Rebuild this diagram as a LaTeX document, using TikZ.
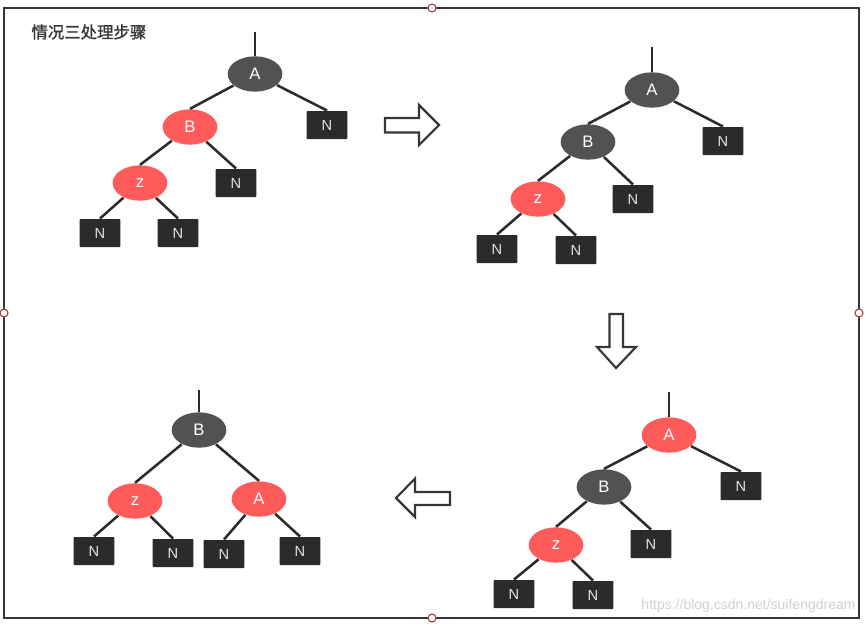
\documentclass[tikz,border=0pt]{standalone}
\usepackage{fontspec}
\setmainfont{Liberation Sans}
\newfontfamily\cjk[FakeBold=1.2]{Noto Sans CJK SC}
\usetikzlibrary{shapes.geometric}

\definecolor{nodedark}{HTML}{525252}
\definecolor{nodered}{HTML}{FF5B5B}
\definecolor{leafbox}{HTML}{2B2B2B}
\definecolor{leaftext}{HTML}{E2E2E2}
\definecolor{edgeline}{HTML}{2B2B2B}
\definecolor{framegray}{HTML}{363636}
\definecolor{handlered}{HTML}{A8383C}
\definecolor{marktext}{HTML}{D0D0D0}

\tikzset{
	blacknode/.style={ellipse, fill=nodedark, text=white, minimum width=41pt, minimum height=26.5pt, inner sep=0pt, font=\fontsize{12.5}{12.5}\selectfont},
	rednode/.style={blacknode, fill=nodered},
	leaf/.style={rectangle, rounded corners=0.5pt, fill=leafbox, text=leaftext, minimum width=30.5pt, minimum height=21pt, inner sep=0pt, font=\fontsize{11}{11}\selectfont},
	link/.style={draw=edgeline, line width=1.9pt},
	bigarrow/.style={draw=framegray, fill=white, line width=1.6pt, line join=miter},
	handle/.style={circle, draw=handlered, fill=white, line width=0.8pt, minimum size=6pt, inner sep=0pt}
}
\tikzset{every picture/.style={line width=0.75pt}}

\begin{document}
\begin{tikzpicture}[x=0.75pt,y=0.75pt,yscale=-1,xscale=1]
	\useasboundingbox (0,0) rectangle (866,625);

	%Shape: Rectangle [id:frame]
	\draw [draw=framegray, line width=1.6pt] (4,8) rectangle (859,618) ;
	% Handles
	\node [handle] (h1) at (432,8) {};
	\node [handle] (h2) at (4,313) {};
	\node [handle] (h3) at (859,313) {};
	\node [handle] (h4) at (432,618) {};

	% Text Node
	\node [anchor=west, text=framegray, font=\cjk\fontsize{12.3}{12.3}\selectfont, inner sep=0pt] (title) at (31,32) {情况三处理步骤};

	%Tree 1
	\coordinate (s1) at (255,32);
	\node [blacknode] (a1) at (255,74) {A};
	\node [rednode] (b1) at (190,127) {B};
	\node [leaf] (na1) at (327,125) {N};
	\node [rednode] (z1) at (140,183) {z};
	\node [leaf] (nb1) at (236,183) {N};
	\node [leaf] (nzl1) at (100,233) {N};
	\node [leaf] (nzr1) at (178,233) {N};
	\draw [link] (s1) -- (a1) ;
	\draw [link] (a1) -- (b1.north) ;
	\draw [link] (a1) -- (na1.north) ;
	\draw [link] (b1) -- (z1.north) ;
	\draw [link] (b1) -- (nb1.north) ;
	\draw [link] (z1) -- (nzl1.north) ;
	\draw [link] (z1) -- (nzr1.north) ;

	%Shape: Right Arrow [id:arrow1]
	\draw [bigarrow] (385,118) -- (419,118) -- (419,105) -- (439,125) -- (419,145) -- (419,132.5) -- (385,132.5) -- cycle ;

	%Tree 2
	\coordinate (s2) at (652,47);
	\node [blacknode] (a2) at (652,90) {A};
	\node [blacknode] (b2) at (588,142) {B};
	\node [leaf] (na2) at (723,141) {N};
	\node [rednode] (z2) at (538,199) {z};
	\node [leaf] (nb2) at (633,199) {N};
	\node [leaf] (nzl2) at (497,249) {N};
	\node [leaf] (nzr2) at (576,250) {N};
	\draw [link] (s2) -- (a2) ;
	\draw [link] (a2) -- (b2.north) ;
	\draw [link] (a2) -- (na2.north) ;
	\draw [link] (b2) -- (z2.north) ;
	\draw [link] (b2) -- (nb2.north) ;
	\draw [link] (z2) -- (nzl2.north) ;
	\draw [link] (z2) -- (nzr2.north) ;

	%Shape: Down Arrow [id:arrow2]
	\draw [bigarrow] (609.5,314) -- (623,314) -- (623,347) -- (636,347) -- (616,368) -- (597,347) -- (609.5,347) -- cycle ;

	%Tree 3
	\coordinate (s3) at (669,392);
	\node [rednode] (a3) at (669,435) {A};
	\node [blacknode] (b3) at (604,487) {B};
	\node [leaf] (na3) at (741,486) {N};
	\node [rednode] (z3) at (556,545) {z};
	\node [leaf] (nb3) at (651,544) {N};
	\node [leaf] (nzl3) at (514,594) {N};
	\node [leaf] (nzr3) at (593,595) {N};
	\draw [link] (s3) -- (a3) ;
	\draw [link] (a3) -- (b3.north) ;
	\draw [link] (a3) -- (na3.north) ;
	\draw [link] (b3) -- (z3.north) ;
	\draw [link] (b3) -- (nb3.north) ;
	\draw [link] (z3) -- (nzl3.north) ;
	\draw [link] (z3) -- (nzr3.north) ;

	%Shape: Left Arrow [id:arrow3]
	\draw [bigarrow] (450,492) -- (415,492) -- (415,478.5) -- (396,498) -- (415,517) -- (415,505) -- (450,505) -- cycle ;

	%Tree 4
	\coordinate (s4) at (199,390);
	\node [blacknode] (b4) at (199,430) {B};
	\node [rednode] (z4) at (135,501) {z};
	\node [rednode] (a4) at (259,499) {A};
	\node [leaf] (nzl4) at (94,551) {N};
	\node [leaf] (nzr4) at (173,553) {N};
	\node [leaf] (nal4) at (224,554) {N};
	\node [leaf] (nar4) at (300,551) {N};
	\draw [link] (s4) -- (b4) ;
	\draw [link] (b4) -- (z4.north) ;
	\draw [link] (b4) -- (a4.north) ;
	\draw [link] (z4) -- (nzl4.north) ;
	\draw [link] (z4) -- (nzr4.north) ;
	\draw [link] (a4) -- (nal4.north) ;
	\draw [link] (a4) -- (nar4.north) ;

	% Text Node
	\node [anchor=east, text=marktext, font=\fontsize{10.5}{10.5}\selectfont, inner sep=0pt] (mark) at (856,606) {https://blog.csdn.net/suifengdream};

\end{tikzpicture}
\end{document}
